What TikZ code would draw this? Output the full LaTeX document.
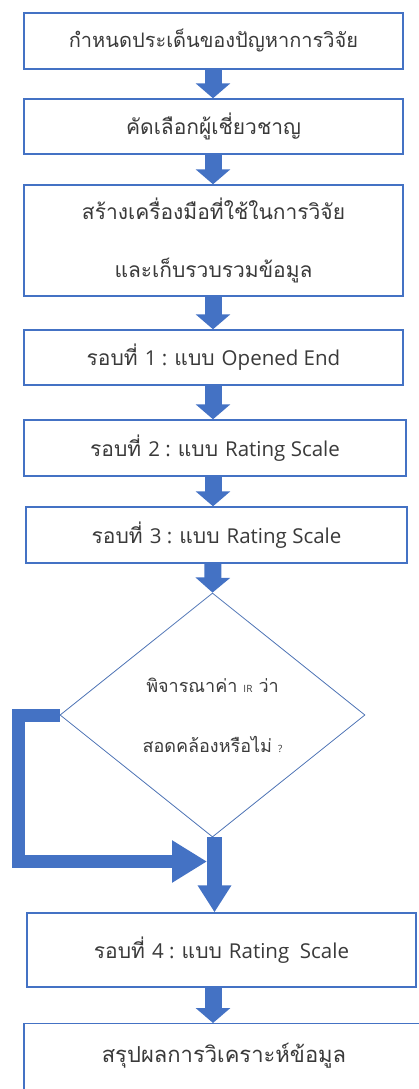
\documentclass[tikz,border=0pt]{standalone}
\usepackage{fontspec}
\newfontfamily\thai[Script=Thai]{Loma}
\newfontfamily\latin{Open Sans}
\usetikzlibrary{arrows.meta,shapes.geometric,calc}
\definecolor{flowblue}{HTML}{4472C4}
\definecolor{txt}{HTML}{3A3A3A}
\tikzset{
  stepbox/.style={draw=flowblue, line width=1.4pt, fill=white, inner sep=0pt, text=txt, font=\thai\fontsize{21}{25}\selectfont},
  blockarrow/.style={draw=flowblue, line width=17pt, -{Triangle[width=34pt,length=15pt]}},
  loopline/.style={draw=flowblue, line width=13pt, line join=miter, -{Triangle[width=40pt,length=35pt]}},
}
\newcommand{\lat}[1]{{\latin\fontsize{20.5}{25}\selectfont #1}}
\begin{document}
\begin{tikzpicture}[x=1pt,y=-1pt]
\useasboundingbox (0,0) rectangle (419,1089);
\clip (0,0) rectangle (419,1089);
\coordinate (ax) at (213,0);
\node[stepbox, minimum width=379pt, minimum height=56pt, font=\thai\fontsize{20}{24}\selectfont] (b1) at (213.5,41) {กำหนดประเด็นของปัญหาการวิจัย};
\node[stepbox, minimum width=379pt, minimum height=55pt] (b2) at (213.5,126.5) {คัดเลือกผู้เชี่ยวชาญ};
\node[stepbox, minimum width=379pt, minimum height=111pt, align=center, font=\thai\fontsize{21}{58}\selectfont] (b3) at (213.5,240.5) {สร้างเครื่องมือที่ใช้ในการวิจัย\\และเก็บรวบรวมข้อมูล};
\node[stepbox, minimum width=379pt, minimum height=55pt] (b4) at (213.5,357.5) {รอบที่ \lat{1 : }แบบ \lat{Opened End}};
\node[stepbox, minimum width=382pt, minimum height=56pt] (b5) at (215,448) {รอบที่ \lat{2 : }แบบ \lat{Rating Scale}};
\node[stepbox, minimum width=381pt, minimum height=56pt] (b6) at (216.5,535) {รอบที่ \lat{3 : }แบบ \lat{Rating Scale}};
\node[draw=flowblue!80!gray, line width=0.8pt, diamond, minimum width=305pt, minimum height=244pt, inner sep=0pt] (d) at (212.5,715) {};
\node[text=txt, align=center, font=\thai\fontsize{18}{60}\selectfont] (dt) at (d.center) {พิจารณาค่า {\latin\fontsize{10}{12}\selectfont IR} ว่า\\สอดคล้องหรือไม่ {\latin\fontsize{10}{12}\selectfont ?}};
\node[stepbox, minimum width=389pt, minimum height=74pt] (b7) at (221.5,950) {รอบที่ \lat{4 : }แบบ \lat{Rating\ \ Scale}};
\node[stepbox, minimum width=400pt, minimum height=76pt, anchor=north] (b8) at (224,1023) {};
\node[text=txt, font=\thai\fontsize{22}{26}\selectfont] (b8t) at (224,1056) {สรุปผลการวิเคราะห์ข้อมูล};
\draw[blockarrow] (b1.south -| ax) -- (b2.north -| ax);
\draw[blockarrow] (b2.south -| ax) -- (b3.north -| ax);
\draw[blockarrow] (b3.south -| ax) -- (b4.north -| ax);
\draw[blockarrow] (b4.south -| ax) -- (b5.north -| ax);
\draw[blockarrow] (b5.south -| ax) -- (b6.north -| ax);
\draw[blockarrow] (b6.south -| ax) -- (d.north);
\coordinate (bar) at (214.5,0);
\draw[draw=flowblue, line width=15pt, -{Triangle[width=32pt,length=27pt]}] (d.south -| bar) -- (b7.north -| bar);
\coordinate (lx) at (18.5,0);
\coordinate (ly) at (0,861.5);
\draw[loopline] (d.west) -- (d.west -| lx) -- (lx |- ly) -- ($(bar |- ly)+(-7.5,0)$);
\draw[blockarrow] (b7.south -| ax) -- (b8.north -| ax);
\end{tikzpicture}
\end{document}
